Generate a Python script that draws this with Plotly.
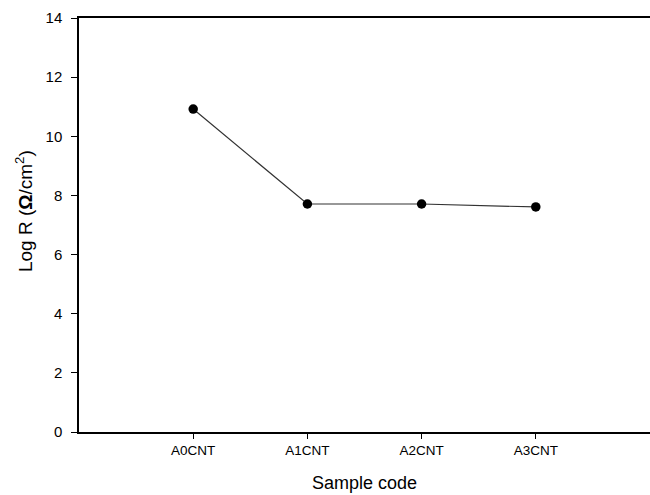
import plotly.graph_objects as go

samples = ["A0CNT", "A1CNT", "A2CNT", "A3CNT"]
log_r = [10.92, 7.71, 7.71, 7.61]
y_ticks = [0, 2, 4, 6, 8, 10, 12, 14]

fig = go.Figure()
fig.add_trace(go.Scatter(
    x=samples, y=log_r, mode="lines+markers",
    line=dict(color="#333333", width=1.2),
    marker=dict(color="black", size=9.5),
    showlegend=False, hoverinfo="skip",
))

fig.update_layout(
    width=650, height=495,
    margin=dict(l=79, r=0, t=18, b=63, autoexpand=False),
    paper_bgcolor="white", plot_bgcolor="white",
    font=dict(family="Liberation Sans, Arial, sans-serif", color="black"),
)
fig.update_xaxes(
    type="category", range=[-1, 4],
    showline=True, linecolor="black", linewidth=1.6, mirror=True,
    ticks="outside", ticklen=5, tickcolor="black", tickwidth=1,
    showgrid=False, zeroline=False,
    tickfont=dict(size=13.5),
    title=dict(text="Sample code", font=dict(size=18), standoff=19),
)
fig.update_yaxes(
    range=[0, 14], tickvals=y_ticks,
    showline=True, linecolor="black", linewidth=1.5,
    ticks="outside", ticklen=6, tickcolor="black", tickwidth=1,
    showgrid=False, zeroline=False,
    tickfont=dict(size=15),
    ticklabelstandoff=6,
)
fig.add_annotation(
    text="Log R (<b>Ω</b>/cm<sup>2</sup>)", textangle=-90,
    xref="paper", yref="y", x=0, y=7.47, xshift=-55,
    xanchor="center", yanchor="middle", showarrow=False,
    font=dict(size=19),
)

fig.write_html(
    "out.html",
    config={"displayModeBar": False},
    post_script="document.body.style.margin='0';document.body.style.overflow='hidden';",
)
